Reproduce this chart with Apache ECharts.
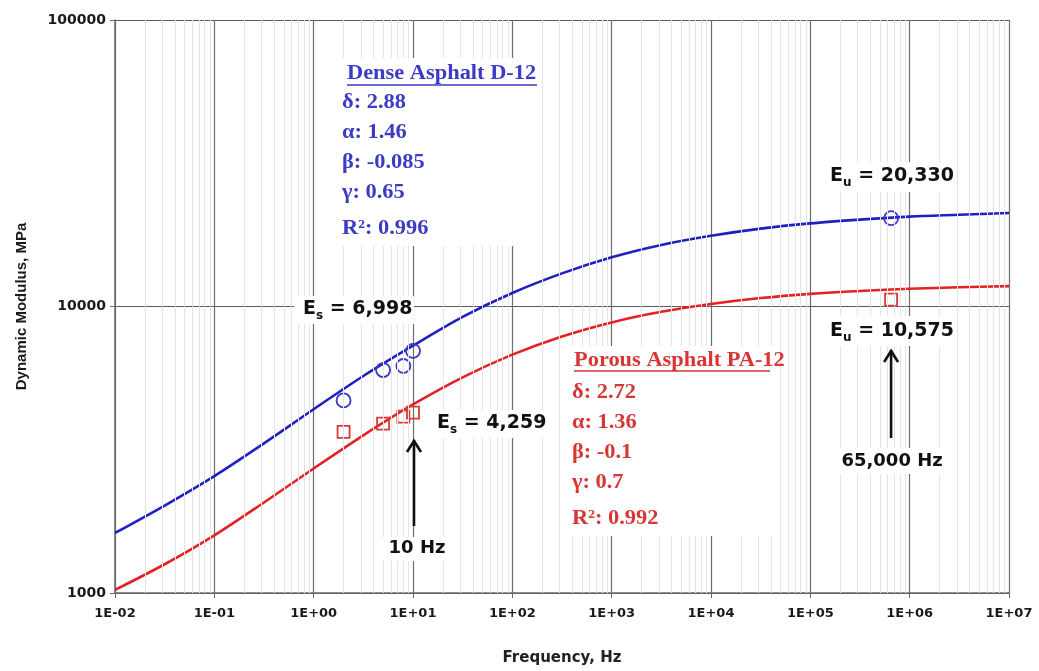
<!DOCTYPE html>
<html><head><meta charset="utf-8">
<script src="https://cdn.jsdelivr.net/npm/echarts@6/dist/echarts.min.js"></script>
<style>html,body{margin:0;padding:0;background:#fff}#c{width:1039px;height:671px}</style>
</head><body><div id="c"></div>
<script>
// ---- data ----
const curveFreq = [0.01, 0.0316, 0.1, 0.316, 1, 3.16, 10, 31.6, 100, 316, 1000, 3160, 10000, 31600, 100000, 316000, 1000000, 3160000, 10000000];
const denseCurve = [1620, 2020, 2560, 3330, 4380, 5720, 7300, 9200, 11150, 13050, 14850, 16400, 17650, 18700, 19500, 20100, 20600, 20900, 21200];
const porousCurve = [1025, 1260, 1590, 2070, 2720, 3550, 4550, 5660, 6790, 7860, 8800, 9580, 10200, 10700, 11070, 11330, 11530, 11670, 11780];
const testFreq = [2, 5, 8, 10, 650000];
const denseMeasured = [4700, 6000, 6200, 7000, 20330];
const porousMeasured = [3650, 3900, 4130, 4260, 10575];
const xTickLabels = ['1E-02','1E-01','1E+00','1E+01','1E+02','1E+03','1E+04','1E+05','1E+06','1E+07'];
const yTickLabels = ['1000','10000','100000'];
const denseParams = ['δ: 2.88', 'α: 1.46', 'β: -0.085', 'γ: 0.65', '0.996'];
const porousParams = ['δ: 2.72', 'α: 1.36', 'β: -0.1', 'γ: 0.7', '0.992'];

// ---- styles ----
const BLUE = '#2020c2', RED = '#e42222', BLUE_T = '#3b3bc6', RED_T = '#d83535';
const SANS = '"DejaVu Sans", sans-serif';
const SERIF = '"Liberation Serif", "Times New Roman", serif';

// minor vertical grid positions (axis structure)
const minorX = [];
for (let e = -2; e < 7; e++) for (let m = 2; m <= 9; m++) minorX.push({ xAxis: m * Math.pow(10, e) });

const pair = (xs, ys) => xs.map((x, i) => [x, ys[i]]);

const option = {
  animation: false,
  backgroundColor: '#fff',
  grid: { left: 115, top: 20, width: 894, height: 575, containLabel: false },
  xAxis: {
    type: 'log', logBase: 10, min: 0.01, max: 1e7,
    name: 'Frequency, Hz', nameLocation: 'middle', nameGap: 58,
    nameTextStyle: { fontFamily: SANS, fontWeight: 'bold', fontSize: 15, color: '#222' },
    axisLine: { show: true, lineStyle: { color: '#6a6a6a', width: 1.5 } },
    axisTick: { show: true, length: 5, lineStyle: { color: '#6a6a6a' } },
    axisLabel: {
      margin: 14, fontFamily: SANS, fontWeight: 'bold', fontSize: 13, color: '#1a1a1a',
      showMinLabel: true, showMaxLabel: true,
      formatter: v => xTickLabels[Math.round(Math.log10(v)) + 2] || ''
    },
    splitLine: { show: true, lineStyle: { color: '#6e6e6e', width: 1.2 } }
  },
  yAxis: {
    type: 'log', logBase: 10, min: 1000, max: 100000,
    name: 'Dynamic Modulus, MPa', nameLocation: 'middle', nameGap: 86,
    nameTextStyle: { fontFamily: '"Liberation Sans", Arial, sans-serif', fontWeight: 'bold', fontSize: 15, color: '#1a1a1a' },
    axisLine: { show: true, lineStyle: { color: '#6a6a6a', width: 1.5 } },
    axisTick: { show: true, length: 5, lineStyle: { color: '#6a6a6a' } },
    axisLabel: {
      margin: 9, fontFamily: SANS, fontWeight: 'bold', fontSize: 14, color: '#1a1a1a',
      formatter: v => yTickLabels[Math.round(Math.log10(v)) - 3] || ''
    },
    splitLine: { show: true, lineStyle: { color: '#5a5a5a', width: 1.2 } }
  },
  series: [
    {
      type: 'line', data: [], z: 1, silent: true,
      markLine: { silent: true, symbol: 'none', label: { show: false },
        lineStyle: { color: '#e4e4e4', width: 1, type: 'solid' }, data: minorX, animation: false }
    },
    { name: 'Dense', type: 'line', data: pair(curveFreq, denseCurve), smooth: 0.3, showSymbol: false,
      lineStyle: { color: BLUE, width: 2.6 }, z: 3 },
    { name: 'Porous', type: 'line', data: pair(curveFreq, porousCurve), smooth: 0.3, showSymbol: false,
      lineStyle: { color: RED, width: 2.6 }, z: 3 },
    { type: 'scatter', data: pair(testFreq, denseMeasured), symbol: 'circle', symbolSize: 14,
      itemStyle: { color: 'rgba(255,255,255,0)', borderColor: '#3a3ac4', borderWidth: 1.8, borderType: 'solid', opacity: 1 }, z: 4 },
    { type: 'scatter', data: pair(testFreq, porousMeasured), symbol: 'rect', symbolSize: 12,
      itemStyle: { color: 'rgba(255,255,255,0)', borderColor: '#d83a3a', borderWidth: 1.8, borderType: 'solid', opacity: 1 }, z: 4 }
  ]
};

const chart = echarts.init(document.getElementById('c'));
chart.setOption(option);

// ---- annotations ----
const g = [];
function rect(x, y, w, h) { g.push({ type: 'rect', z: 50, shape: { x, y, width: w, height: h }, style: { fill: '#fff' }, silent: true }); }
function serifLine(x, y, text, color, sup) {
  const rich = { n: { font: 'bold 20px ' + SERIF, fill: color }, s: { font: 'bold 12px ' + SERIF, fill: color, verticalAlign: 'top' } };
  g.push({ type: 'text', z: 60, x, y, scaleX: 1.12, originX: 0, silent: true,
    style: { x: 0, y: 0, text: sup ? '{n|R}{s|2}{n|: ' + text + '}' : '{n|' + text + '}', rich, fill: color,
      font: 'bold 20px ' + SERIF, verticalAlign: 'middle', align: 'left' } });
}
function underline(x1, x2, y, color) {
  g.push({ type: 'line', z: 60, silent: true, shape: { x1, y1: y, x2, y2: y }, style: { stroke: color, lineWidth: 1.5 } });
}
function eLabel(x, y, sub, val) {
  g.push({ type: 'text', z: 60, x, y, silent: true,
    style: { x: 0, y: 0, text: '{n|E}{s|' + sub + '}{n| = ' + val + '}', verticalAlign: 'middle', align: 'left',
      rich: { n: { font: 'bold 19px ' + SANS, fill: '#111', lineHeight: 26 },
              s: { font: 'bold 12px ' + SANS, fill: '#111', verticalAlign: 'bottom', lineHeight: 26 } } } });
}
function plainLabel(x, y, text) {
  g.push({ type: 'text', z: 60, x, y, silent: true,
    style: { x: 0, y: 0, text, font: 'bold 18px ' + SANS, fill: '#111', align: 'center', verticalAlign: 'middle' } });
}
function arrow(x, tipY, baseY) {
  g.push({ type: 'line', z: 60, silent: true, shape: { x1: x, y1: tipY, x2: x, y2: baseY }, style: { stroke: '#111', lineWidth: 2.6 } });
  g.push({ type: 'polyline', z: 60, silent: true, shape: { points: [[x - 7, tipY + 12], [x, tipY + 1], [x + 7, tipY + 12]] },
    style: { stroke: '#111', lineWidth: 2.6, fill: null } });
}

// Dense block
rect(340, 58, 202, 188);
serifLine(347, 74, 'Dense Asphalt D-12', BLUE_T);
underline(347, 537, 85, BLUE_T);
denseParams.forEach((t, i) => serifLine(342, 103 + i * 30 + (i === 4 ? 6 : 0), t, BLUE_T, i === 4));
// Porous block
rect(566, 346, 210, 190);
serifLine(574, 361, 'Porous Asphalt PA-12', RED_T);
underline(574, 770, 371, RED_T);
porousParams.forEach((t, i) => serifLine(572, 393 + i * 30 + (i === 4 ? 6 : 0), t, RED_T, i === 4));

// E labels
rect(294, 296, 120, 28); eLabel(303, 309, 's', '6,998');
rect(432, 410, 116, 28); eLabel(437, 423, 's', '4,259');
rect(824, 162, 130, 30); eLabel(830, 176, 'u', '20,330');
rect(824, 316, 130, 30); eLabel(830, 331, 'u', '10,575');

// arrows
const x10 = chart.convertToPixel({ xAxisIndex: 0 }, 10);
const xHigh = chart.convertToPixel({ xAxisIndex: 0 }, 650000);
rect(x10 - 32, 537, 64, 24);
arrow(x10 + 1, 440, 526); plainLabel(x10 + 4, 548, '10 Hz');
rect(xHigh - 56, 448, 112, 26);
arrow(xHigh, 350, 438); plainLabel(xHigh + 1, 461, '65,000 Hz');

chart.setOption({ graphic: { elements: g } });
</script>
</body></html>
